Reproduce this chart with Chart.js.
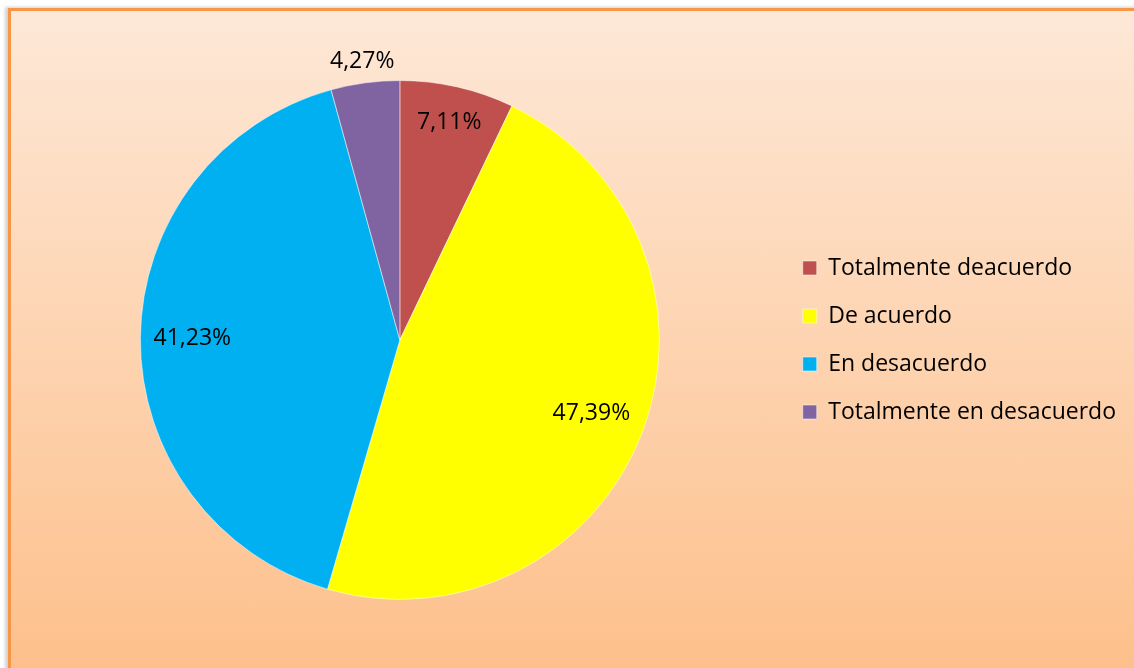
<!DOCTYPE html>
<html>
<head>
<meta charset="utf-8">
<script src="https://cdn.jsdelivr.net/npm/chart.js@4/dist/chart.umd.min.js"></script>
<style>
  html, body { margin: 0; padding: 0; background: #fff; overflow: hidden; }
  #frame {
    position: absolute; left: 8px; top: 8px; width: 1200px; height: 720px;
    border: 3px solid #f79646;
    background: linear-gradient(#fde8d7, #fdbd86 98%);
    box-shadow: -3px -1px 3px rgba(0,0,0,0.18);
  }
  #pie { position: absolute; left: 0; top: 0; }
</style>
</head>
<body>
<div id="frame"></div>
<canvas id="pie" width="1134" height="668"></canvas>
<script>
// categorías de la encuesta
var categorias = ["Totalmente deacuerdo", "De acuerdo", "En desacuerdo", "Totalmente en desacuerdo"];
// porcentajes
var porcentajes = [7.11, 47.39, 41.23, 4.27];
var etiquetas = ["7,11%", "47,39%", "41,23%", "4,27%"];
var colores = ["#c0504d", "#ffff00", "#00b0f0", "#8064a2"];

var fuente = "'Open Sans', sans-serif";

// etiquetas de datos dentro / fuera de cada sector
var etiquetasPlugin = {
  id: "etiquetas",
  afterDatasetsDraw: function(chart) {
    var ctx = chart.ctx;
    var meta = chart.getDatasetMeta(0);
    var dist = [0.86, 0.79, 0.8, 1.085];
    ctx.save();
    ctx.font = "23px " + fuente;
    ctx.fillStyle = "#000";
    ctx.textAlign = "center";
    ctx.textBaseline = "middle";
    meta.data.forEach(function(arc, i) {
      var p = arc.getProps(["x", "y", "startAngle", "endAngle", "outerRadius"], true);
      var mid = (p.startAngle + p.endAngle) / 2;
      var r = p.outerRadius * dist[i];
      ctx.fillText(etiquetas[i], p.x + Math.cos(mid) * r, p.y + Math.sin(mid) * r);
    });
    ctx.restore();
  }
};

new Chart(document.getElementById("pie"), {
  type: "pie",
  data: {
    labels: categorias,
    datasets: [{
      data: porcentajes,
      backgroundColor: colores,
      borderColor: "rgba(255,255,255,0.5)",
      borderWidth: 1
    }]
  },
  options: {
    responsive: false,
    animation: false,
    layout: { padding: { left: 22, right: 8, top: 80, bottom: 68 } },
    plugins: {
      tooltip: { enabled: false },
      legend: {
        display: true,
        position: "right",
        labels: {
          boxWidth: 14,
          boxHeight: 14,
          padding: 25,
          color: "#000",
          font: { family: fuente, size: 23 }
        }
      }
    }
  },
  plugins: [etiquetasPlugin]
});
</script>
</body>
</html>
